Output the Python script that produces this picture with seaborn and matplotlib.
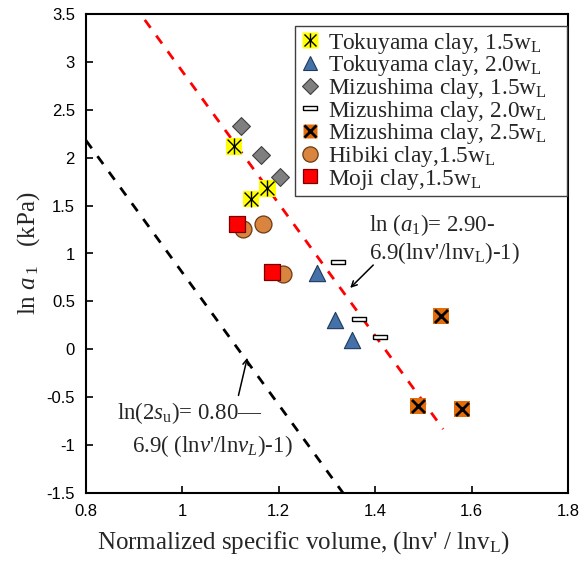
import matplotlib
matplotlib.use("Agg")
import matplotlib.pyplot as plt
import seaborn as sns
import numpy as np
import pandas as pd
from matplotlib.lines import Line2D
from matplotlib.legend_handler import HandlerTuple

# Normalized specific volume (lnv'/lnvL) and ln a1 (kPa) per soil series
tok15_x = [1.107, 1.142, 1.176]
tok15_y = [2.12, 1.57, 1.68]
tok20_x = [1.279, 1.317, 1.352]
tok20_y = [0.80, 0.31, 0.10]
miz15_x = [1.122, 1.163, 1.202]
miz15_y = [2.33, 2.03, 1.80]
miz20_x = [1.323, 1.366, 1.410]
miz20_y = [0.91, 0.32, 0.13]
miz25_x = [1.537, 1.489, 1.580]
miz25_y = [0.35, -0.59, -0.62]
hib15_x = [1.126, 1.167, 1.209]
hib15_y = [1.256, 1.31, 0.79]
moj15_x = [1.113, 1.186]
moj15_y = [1.31, 0.81]

# Fitted relations: ln(a1) = 2.90 - 6.9(x-1), ln(2su) = 0.80 - 6.9(x-1)
a1_intercept, su_intercept, slope = 2.90, 0.80, 6.9
a1_x_range = [0.922, 1.541]
su_x_range = [0.80, 1.333]

x_ticks = [0.8, 1.0, 1.2, 1.4, 1.6, 1.8]
x_tick_labels = ["0.8", "1", "1.2", "1.4", "1.6", "1.8"]
y_ticks = [-1.5, -1, -0.5, 0, 0.5, 1, 1.5, 2, 2.5, 3, 3.5]
y_tick_labels = ["-1.5", "-1", "-0.5", "0", "0.5", "1", "1.5", "2", "2.5", "3", "3.5"]

legend_labels = [
    r"Tokuyama clay, 1.5w$_\mathregular{L}$",
    r"Tokuyama clay, 2.0w$_\mathregular{L}$",
    r"Mizushima clay, 1.5w$_\mathregular{L}$",
    r"Mizushima clay, 2.0w$_\mathregular{L}$",
    r"Mizushima clay, 2.5w$_\mathregular{L}$",
    r"Hibiki clay,1.5w$_\mathregular{L}$",
    r"Moji clay,1.5w$_\mathregular{L}$",
]

sns.set_style("ticks")
plt.rcParams["font.family"] = ["Liberation Sans", "DejaVu Sans"]
plt.rcParams["mathtext.fontset"] = "custom"
plt.rcParams["mathtext.rm"] = "Liberation Serif"
plt.rcParams["mathtext.it"] = "Liberation Serif:italic"
plt.rcParams["mathtext.bf"] = "Liberation Serif:bold"

SERIF = "Liberation Serif"

fig = plt.figure(figsize=(5.87, 5.64), dpi=100)
ax = fig.add_axes([86 / 587, 1 - 493 / 564, (568 - 86) / 587, (493 - 14) / 564])

# dash-shaped marker for the Mizushima 2.0wL series
dash_marker = [(-1, -0.28), (1, -0.28), (1, 0.28), (-1, 0.28), (-1, -0.28)]

# regression lines
a1_line = pd.DataFrame({"x": a1_x_range,
                        "y": [a1_intercept - slope * (v - 1) for v in a1_x_range]})
su_line = pd.DataFrame({"x": su_x_range,
                        "y": [su_intercept - slope * (v - 1) for v in su_x_range]})
sns.lineplot(data=a1_line, x="x", y="y", ax=ax, color="red", lw=2.0,
             linestyle=(0, (3.5, 3.5)), zorder=2)
sns.lineplot(data=su_line, x="x", y="y", ax=ax, color="black", lw=2.0,
             linestyle=(0, (3.5, 3.5)), zorder=2)

ms = 110
# Tokuyama 1.5wL: yellow square with star overlay
sns.scatterplot(x=tok15_x, y=tok15_y, ax=ax, marker="s", s=ms * 1.3,
                color="#FFFF00", edgecolor="none", linewidth=0, zorder=3)
sns.scatterplot(x=tok15_x, y=tok15_y, ax=ax, marker="x", s=ms * 0.9,
                color="black", linewidth=1.0, zorder=4)
sns.scatterplot(x=tok15_x, y=tok15_y, ax=ax, marker="|", s=ms * 1.2,
                color="black", linewidth=1.0, zorder=4)
# Tokuyama 2.0wL
sns.scatterplot(x=tok20_x, y=tok20_y, ax=ax, marker="^", s=ms * 1.25,
                color="#4472A8", edgecolor="#1F3A5F", linewidth=0.8, zorder=3)
# Mizushima 1.5wL
sns.scatterplot(x=miz15_x, y=miz15_y, ax=ax, marker="D", s=ms * 0.75,
                color="#7F7F7F", edgecolor="#404040", linewidth=0.8, zorder=3)
# Mizushima 2.0wL
sns.scatterplot(x=miz20_x, y=miz20_y, ax=ax, marker=dash_marker, s=ms * 1.0,
                color="white", edgecolor="black", linewidth=1.0, zorder=3)
# Mizushima 2.5wL: orange square with black cross
sns.scatterplot(x=miz25_x, y=miz25_y, ax=ax, marker="s", s=ms * 1.2,
                color="#E46C0A", edgecolor="none", linewidth=0, zorder=3)
sns.scatterplot(x=miz25_x, y=miz25_y, ax=ax, marker="x", s=ms * 0.8,
                color="black", linewidth=2.0, zorder=4)
# Hibiki 1.5wL
sns.scatterplot(x=hib15_x, y=hib15_y, ax=ax, marker="o", s=ms * 1.35,
                color="#D9843F", edgecolor="#6B3A12", linewidth=0.9, zorder=3)
# Moji 1.5wL
sns.scatterplot(x=moj15_x, y=moj15_y, ax=ax, marker="s", s=ms * 1.25,
                color="#FF0000", edgecolor="#7A0000", linewidth=0.9, zorder=3)

ax.set_xlim(0.8, 1.8)
ax.set_ylim(-1.5, 3.5)
ax.set_xticks(x_ticks)
ax.set_xticklabels(x_tick_labels)
ax.set_yticks(y_ticks)
ax.set_yticklabels(y_tick_labels)
ax.tick_params(direction="in", length=5, width=1.2, labelsize=12, colors="black")
ax.tick_params(axis="y", pad=8)
ax.tick_params(axis="x", pad=8)
for sp in ax.spines.values():
    sp.set_visible(True)
    sp.set_linewidth(1.5)
    sp.set_color("black")

ax.set_xlabel(r"Normalized specific volume, (lnv' / lnv$_\mathregular{L}$)",
              fontsize=18, family=SERIF, labelpad=6)
ax.xaxis.set_label_coords(0.45, -0.075)
ax.set_ylabel(r"ln $\mathit{a}_{\,\mathregular{1}}$   (kPa)", fontsize=18,
              family=SERIF, labelpad=3)

# legend with composite markers
h_tok15 = (Line2D([], [], ls="none", marker="s", ms=11, mfc="#FFFF00", mec="none"),
           Line2D([], [], ls="none", marker="x", ms=8, mec="black", mew=1.0),
           Line2D([], [], ls="none", marker="|", ms=10, mec="black", mew=1.0))
h_tok20 = Line2D([], [], ls="none", marker="^", ms=10, mfc="#4472A8", mec="#1F3A5F", mew=0.8)
h_miz15 = Line2D([], [], ls="none", marker="D", ms=8, mfc="#7F7F7F", mec="#404040", mew=0.8)
h_miz20 = Line2D([], [], ls="none", marker=dash_marker, ms=10, mfc="white", mec="black", mew=1.0)
h_miz25 = (Line2D([], [], ls="none", marker="s", ms=10, mfc="#E46C0A", mec="none"),
           Line2D([], [], ls="none", marker="x", ms=8, mec="black", mew=2.0))
h_hib = Line2D([], [], ls="none", marker="o", ms=11, mfc="#D9843F", mec="#6B3A12", mew=0.9)
h_moj = Line2D([], [], ls="none", marker="s", ms=10, mfc="#FF0000", mec="#7A0000", mew=0.9)

leg_x0, leg_x1 = (295 - 86) / 482, (567 - 86) / 482
leg = ax.legend([h_tok15, h_tok20, h_miz15, h_miz20, h_miz25, h_hib, h_moj],
                legend_labels,
                handler_map={tuple: HandlerTuple(ndivide=1, pad=0)},
                loc="upper left", bbox_to_anchor=(leg_x0, 0.5, leg_x1 - leg_x0, 0.475),
                mode="expand",
                prop={"family": SERIF, "size": 16.8},
                frameon=True, fancybox=False, edgecolor="#404040",
                framealpha=1, borderpad=0.2, labelspacing=-0.1,
                handlelength=0.9, handletextpad=0.3, borderaxespad=0.0)
leg.get_frame().set_linewidth(1.0)

# annotations for the fitted relations
ax.annotate("", xy=(1.344, 0.62), xytext=(1.40, 0.90),
            arrowprops=dict(arrowstyle="->", color="black", lw=1.1))
ax.text(1.387, 1.235, r"ln ($\mathit{a}_\mathregular{1}$)= 2.90-", fontsize=16.5,
        family=SERIF, ha="left", va="baseline")
ax.text(1.387, 0.945, r"6.9(lnv'/lnv$_\mathregular{L}$)-1)", fontsize=16.5,
        family=SERIF, ha="left", va="baseline")

ax.annotate("", xy=(1.136, -0.06), xytext=(1.115, -0.51),
            arrowprops=dict(arrowstyle="->", color="black", lw=1.1))
ax.text(0.864, -0.727, r"ln(2$\mathit{s}_\mathregular{u}$)= 0.80—", fontsize=16.5,
        family=SERIF, ha="left", va="baseline")
ax.text(0.895, -1.072, r"6.9( (ln$\mathit{v}$'/ln$\mathit{v}_\mathit{L}$)-1)",
        fontsize=16.5, family=SERIF, ha="left", va="baseline")

fig.savefig("out.png", dpi=100)
